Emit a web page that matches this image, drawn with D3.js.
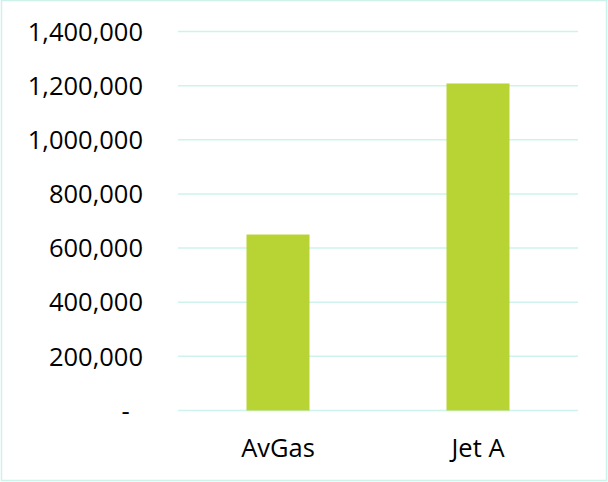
<!DOCTYPE html>
<html>
<head>
<meta charset="utf-8">
<script src="https://cdn.jsdelivr.net/npm/d3@7"></script>
<style>
  body { margin: 0; background: #fff; }
  text { font-family: "Open Sans", sans-serif; fill: #000; }
</style>
</head>
<body>
<script>
// data
var categories = ["AvGas", "Jet A"];
var volumes = [650000, 1208000];
var yTicks = [0, 200000, 400000, 600000, 800000, 1000000, 1200000, 1400000];

// set the dimensions and margins of the graph
var W = 608, H = 482;
var margin = {top: 31.5, right: 30, bottom: 71.5, left: 178},
    width = W - margin.left - margin.right,
    height = H - margin.top - margin.bottom;

var svg = d3.select("body").append("svg")
    .attr("width", W)
    .attr("height", H);

// outer chart border
svg.append("rect")
    .attr("x", 1.5)
    .attr("y", 0.5)
    .attr("width", W - 3)
    .attr("height", H - 2)
    .attr("fill", "#fff")
    .attr("stroke", "#cdf2ea")
    .attr("stroke-width", 1.5);

var g = svg.append("g")
    .attr("transform", "translate(" + margin.left + "," + margin.top + ")");

// set the ranges
var x = d3.scaleBand()
    .domain(categories)
    .range([0, width])
    .paddingInner(0.685)
    .paddingOuter(0.3425);

var y = d3.scaleLinear()
    .domain([0, 1400000])
    .range([height, 0]);

// gridlines
g.selectAll(".grid")
    .data(yTicks)
  .enter().append("line")
    .attr("class", "grid")
    .attr("x1", 0)
    .attr("x2", width)
    .attr("y1", function(d) { return y(d); })
    .attr("y2", function(d) { return y(d); })
    .attr("stroke", "#cdf3ec")
    .attr("stroke-width", 1.5);

// bars
g.selectAll(".bar")
    .data(volumes)
  .enter().append("rect")
    .attr("class", "bar")
    .attr("x", function(d, i) { return x(categories[i]); })
    .attr("width", x.bandwidth())
    .attr("y", function(d) { return y(d); })
    .attr("height", function(d) { return height - y(d); })
    .attr("fill", "#b8d334");

// y axis
var fmt = d3.format(",");
var yAxis = g.append("g")
    .attr("transform", "translate(-35,0)")
    .call(d3.axisLeft(y)
        .tickValues(yTicks)
        .tickSize(0)
        .tickPadding(0)
        .tickFormat(function(d) { return d === 0 ? "-\u00a0\u00a0" : fmt(d); }));
yAxis.select(".domain").remove();
yAxis.selectAll("text")
    .attr("dy", "0.34em")
    .style("font-size", "25.5px")
    .style("font-family", "'Open Sans', sans-serif")
    .attr("fill", "#000");

// x axis
var xAxis = g.append("g")
    .attr("transform", "translate(0," + height + ")")
    .call(d3.axisBottom(x).tickSize(0).tickPadding(0));
xAxis.select(".domain").remove();
xAxis.selectAll("text")
    .attr("y", 46.5)
    .attr("dy", 0)
    .style("font-size", "25.5px")
    .style("font-family", "'Open Sans', sans-serif")
    .attr("fill", "#000");
</script>
</body>
</html>
